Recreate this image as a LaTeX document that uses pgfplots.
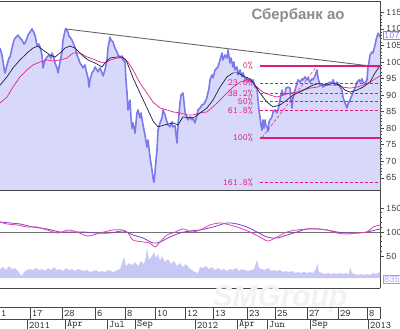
\documentclass[border=0pt]{standalone}
\usepackage{pgfplots}
\usepackage{pgfplotstable}
\pgfplotsset{compat=1.18}
\usepackage{fontspec}
\newfontfamily\titlefont{Liberation Sans}
\definecolor{lav}{RGB}{216,216,250}
\definecolor{pline}{RGB}{122,122,236}
\definecolor{maA}{RGB}{30,30,70}
\definecolor{maB}{RGB}{222,40,130}
\definecolor{fib}{RGB}{226,24,122}
\definecolor{oscA}{RGB}{124,64,208}
\definecolor{oscB}{RGB}{228,70,170}
\definecolor{volc}{RGB}{200,200,246}
\definecolor{frame}{RGB}{70,70,70}

\pgfplotstableread{
x v
0 104.2
2 102.1
4 98.2
5 96.7
7 99.1
9 101.2
10 101.5
12 104.2
14 106.6
15 107.2
17 107.8
18 108.1
20 107.2
22 106.6
24 105.4
25 105.7
27 107.2
28 108.1
30 109.0
32 110.0
33 109.4
35 108.1
36 106.6
37 105.1
39 105.4
40 104.5
42 102.1
43 98.2
45 100.6
47 101.5
49 102.1
51 101.2
52 102.7
54 101.2
55 99.7
57 98.2
58 96.7
60 100.0
62 103.0
63 106.6
65 109.4
66 110.0
68 109.0
69 107.8
70 107.5
72 106.6
74 105.1
75 104.5
77 102.1
79 100.6
80 99.7
82 98.8
83 98.2
85 99.1
86 97.6
88 95.2
89 92.4
90 94.6
92 96.7
94 97.6
95 98.5
97 97.6
98 97.0
100 98.2
102 96.7
103 95.8
105 97.6
107 100.6
108 104.2
110 107.5
111 106.6
113 106.0
115 104.2
117 103.0
118 102.1
120 101.5
122 101.8
123 100.6
125 100.0
126 94.6
127 90.6
128 85.5
130 88.5
131 83.1
132 80.0
133 81.6
135 78.5
137 84.6
138 85.5
140 83.1
141 84.6
143 81.0
145 77.9
147 74.3
148 76.4
150 71.3
152 67.4
153 64.9
154 63.7
155 66.5
156 70.4
157 73.4
158 79.4
160 81.6
162 83.1
163 85.5
165 84.0
167 81.9
168 81.0
170 80.4
172 81.9
173 80.4
175 80.7
177 75.5
178 81.0
180 87.6
181 90.0
183 90.6
184 87.9
185 84.9
187 83.1
188 82.5
190 83.4
192 82.5
193 83.1
195 81.6
197 84.0
198 85.5
200 86.1
202 87.0
204 87.3
206 88.5
207 89.4
209 92.1
210 94.6
212 96.1
213 95.2
215 97.6
217 98.2
218 98.5
220 100.6
222 102.7
223 100.6
225 102.1
227 101.2
228 103.6
230 99.7
231 101.2
233 98.5
234 100.0
235 97.6
237 98.5
238 96.1
240 97.6
242 95.5
243 96.7
245 94.9
247 95.2
248 93.9
250 94.6
252 93.9
253 94.6
255 92.4
257 92.1
258 88.5
259 85.5
260 83.4
261 81.0
262 79.4
263 82.5
264 80.0
265 82.5
266 80.7
267 80.4
268 79.1
269 81.9
270 82.5
272 83.4
273 84.9
275 85.5
277 84.6
278 85.5
280 88.5
281 90.0
282 91.5
283 90.0
285 90.6
286 92.1
288 92.4
290 92.1
291 88.5
292 86.1
293 89.1
295 91.5
297 93.6
298 94.6
300 93.9
302 94.9
303 94.6
305 95.5
307 94.6
308 95.2
310 93.9
312 94.9
313 94.6
315 95.8
317 97.6
318 95.2
320 93.0
322 93.3
323 92.4
325 93.0
327 93.3
328 93.6
330 93.9
332 93.6
333 94.6
335 93.0
337 93.9
338 93.6
340 92.4
342 91.5
343 89.4
345 87.6
347 86.1
348 87.3
350 88.5
352 90.0
353 90.9
355 92.1
357 93.9
359 94.6
360 93.9
362 94.9
363 93.9
365 93.6
367 94.6
368 98.5
369 100.0
370 102.1
372 103.0
373 102.7
375 105.1
376 106.6
378 108.7
379 108.2
380 107.5
}\price

\pgfplotstableread{
x v
0 93.0
7 95.5
13 98.2
20 100.6
27 102.7
33 104.2
38 104.8
43 103.6
50 102.1
55 101.5
60 102.7
65 104.2
70 104.8
75 104.2
82 102.1
88 100.6
95 99.7
102 98.5
105 99.7
110 101.2
117 101.5
122 101.5
126 100.6
130 97.6
133 95.2
140 90.6
147 86.1
153 82.2
158 80.4
165 81.0
173 81.6
178 81.0
183 83.4
190 83.1
195 83.4
200 84.6
207 86.1
213 88.5
220 92.4
227 95.5
233 96.7
238 96.7
245 95.5
250 94.9
255 93.0
260 90.6
267 87.9
273 86.4
280 87.0
287 88.5
293 90.0
300 90.9
307 92.1
313 93.0
320 93.6
327 93.0
333 93.6
340 93.0
345 91.5
350 90.9
357 91.5
363 92.4
370 93.9
375 96.7
380 98.8
}\maone

\pgfplotstableread{
x v
0 87.6
7 89.4
13 92.4
20 95.5
27 97.6
33 99.1
40 100.0
47 100.6
53 100.3
60 100.6
67 101.2
73 102.7
80 102.7
87 101.5
93 100.9
100 100.0
105 99.7
110 100.6
117 101.2
123 101.2
128 100.0
133 97.6
140 93.6
147 90.6
153 87.9
160 86.1
167 85.5
173 84.9
180 84.6
187 84.0
193 84.0
200 84.6
207 84.9
213 86.4
220 88.5
227 90.6
233 92.4
240 93.9
247 94.6
250 94.6
257 92.4
263 90.9
270 90.0
277 89.4
283 90.0
290 90.6
297 90.9
303 91.5
310 92.1
317 92.4
323 93.0
330 93.0
337 93.0
343 92.4
350 92.1
357 92.4
363 93.0
370 93.9
380 95.8
}\matwo

\pgfplotstableread{
x v
0 120.8
10 118.8
20 116.7
33 110.4
47 106.3
60 100
70 100
83 100
97 97.9
110 97.9
123 102.1
133 93.8
143 87.5
153 77.1
160 79.2
170 89.6
180 97.9
190 102.1
200 104.2
213 110.4
227 118.8
237 116.7
247 110.4
257 100
267 89.6
277 87.5
287 93.8
297 100
307 106.3
317 106.3
327 104.2
337 100
347 97.9
357 97.9
367 100
380 106.3
}\oscone

\pgfplotstableread{
x v
0 120.8
7 116.7
17 114.6
27 110.4
37 110.4
47 104.2
58 97.9
68 104.2
77 100
88 91.7
100 97.9
113 104.2
123 104.2
128 97.9
133 83.3
143 79.2
150 77.1
155 68.8
160 79.2
167 93.8
173 97.9
183 106.3
192 100
200 104.2
210 114.6
220 118.8
230 114.6
240 108.3
250 100
260 89.6
268 81.3
277 89.6
287 100
297 104.2
307 106.3
317 106.3
327 104.2
337 97.9
347 95.8
357 97.9
367 100
373 110.4
380 114.6
}\osctwo

\pgfplotstableread{
x h
0 9
3 11
6 8
9 12
12 9
15 10
18 7
20 4
22 2
24 6
27 8
30 9
33 8
36 10
39 8
42 9
45 7
48 10
51 8
54 11
57 8
60 9
63 7
66 10
69 8
72 9
75 7
78 9
81 8
84 7
87 8
90 6
93 7
96 8
99 6
102 7
105 6
108 8
111 7
114 6
117 8
120 9
123 18
124 21
126 12
129 15
132 13
135 16
138 12
141 17
144 14
146 22
147 30
149 18
152 22
154 26
156 20
158 24
160 17
162 22
165 16
168 19
171 14
174 17
177 12
180 15
183 11
186 14
189 10
192 8
195 6
198 5
200 11
203 10
206 12
209 9
212 11
215 8
218 10
221 8
224 9
227 7
230 9
233 8
236 10
239 7
242 9
245 8
248 7
251 8
254 9
257 18
259 10
262 9
265 8
268 10
271 7
274 8
277 7
280 8
283 6
286 7
289 6
292 7
295 5
298 6
301 5
304 6
307 5
310 6
313 5
316 9
317 15
319 6
322 5
325 4
328 5
331 4
334 5
337 4
340 5
343 4
346 5
349 4
350 11
352 5
355 4
358 3
361 4
364 3
367 4
370 3
373 5
376 4
380 6
}\vol

\pgfplotsset{
  chartstyle/.style={
    scale only axis, width=380bp, xmin=0, xmax=380,
    xtick=\empty,
    axis x line*=box, axis y line*=right,
    axis line style={-, draw=frame, line width=0.8bp},
    ytick pos=right, yticklabel pos=right,
    tick align=outside,
    major tick length=3.5bp, minor tick length=2bp,
    tick style={draw=frame, line width=0.6bp},
    yticklabel style={font=\ttfamily\fontsize{10}{10}\selectfont, text=black!80, anchor=west, xshift=-1bp},
    /pgf/number format/assume math mode=true,
  },
}

\begin{document}
\begin{tikzpicture}[x=1bp,y=1bp]
\clip (0,0) rectangle (400,329);
\fill[white] (0,0) rectangle (400,329);

% ---------- main price panel ----------
\begin{axis}[chartstyle,
  at={(0bp,139bp)}, anchor=south west, height=189bp,
  ymin=61.32, ymax=118.42,
  ytick={65,70,...,115}, minor tick num=4,
]
\addplot[fill=lav, draw=none] table[x=x,y=v]{\price} \closedcycle;
\addplot[pline, line width=1.6bp, line join=round] table[x=x,y=v]{\price};
\addplot[maB, line width=0.7bp] table[x=x,y=v]{\matwo};
\addplot[maA, line width=0.7bp] table[x=x,y=v]{\maone};
\addplot[black!60, line width=0.9bp] coordinates {(65,110.0) (378,98.5)};
% Fibonacci levels
\addplot[draw=fib, line width=1.5bp] coordinates {(260,98.8) (380,98.8)};
\addplot[draw=fib, line width=1.5bp] coordinates {(260,77.1) (380,77.1)};
\addplot[draw=fib, densely dashed, line width=0.6bp] coordinates {(260,93.7) (380,93.7)};
\addplot[draw=fib, densely dashed, line width=0.6bp] coordinates {(260,90.5) (380,90.5)};
\addplot[draw=fib, densely dashed, line width=0.6bp] coordinates {(260,88.0) (380,88.0)};
\addplot[draw=fib, densely dashed, line width=0.6bp] coordinates {(260,85.4) (380,85.4)};
\addplot[draw=fib, densely dashed, line width=0.6bp] coordinates {(260,63.7) (380,63.7)};
\addplot[draw=fib, densely dashed, line width=0.5bp] coordinates {(262,77.1) (317,98.8)};
\begin{scope}[every node/.style={font=\ttfamily\fontsize{9.5}{9.5}\selectfont, text=fib, anchor=east, inner sep=0pt}]
\node at (axis cs:253,98.8) {0\%};
\node at (axis cs:253,93.7) {23.6\%};
\node at (axis cs:253,90.5) {38.2\%};
\node at (axis cs:253,88.0) {50\%};
\node at (axis cs:253,85.4) {61.8\%};
\node at (axis cs:253,77.1) {100\%};
\node at (axis cs:253,63.7) {161.8\%};
\end{scope}
\end{axis}

% ---------- oscillator / volume panel ----------
\begin{axis}[chartstyle,
  at={(0bp,41bp)}, anchor=south west, height=98bp,
  ymin=-16.67, ymax=187.5,
  ytick={50,100,150}, minor tick num=4,
]
\addplot[black!55, line width=0.9bp] coordinates {(0,100) (380,100)};
\addplot[oscA, line width=0.8bp, smooth] table[x=x,y=v]{\oscone};
\addplot[oscB, line width=0.8bp, smooth] table[x=x,y=v]{\osctwo};
\end{axis}
\begin{axis}[
  at={(0bp,41bp)}, anchor=south west, scale only axis, width=380bp, height=98bp,
  xmin=0, xmax=380, ymin=-10, ymax=88, hide axis,
]
\addplot[fill=volc, draw=none] table[x=x,y=h]{\vol} \closedcycle;
\end{axis}

% ---------- title and value boxes ----------
\node[font=\titlefont\bfseries\fontsize{15}{15}\selectfont, text=black!45] at (298,313) {Сбербанк ао};
\node[draw=black!45, fill=white, inner sep=1bp, anchor=west, font=\ttfamily\fontsize{10}{10}\selectfont, text=pline] at (383,294) {107.5};
\node[draw=black!35, fill=white, inner sep=1bp, anchor=west, font=\ttfamily\fontsize{10}{10}\selectfont, text=volc!80!blue] at (383,50) {835};

% ---------- watermark ----------
\node[font=\titlefont\bfseries\itshape\fontsize{30}{30}\selectfont, text=black!5] at (280,30) {SMGroup};

% ---------- date bar ----------
\begin{scope}[draw=frame, line width=0.8bp]
\draw (0,22) -- (380,22);
\draw (0,10) -- (380,10);
\foreach \xx in {30,62,95,125,155,185,213,247,275,307,338,367,380} {\draw (\xx,22) -- (\xx,10);}
\foreach \xx in {27,65,107,135,195,237,267,310,368} {\draw (\xx,10) -- (\xx,0);}
\end{scope}
\begin{scope}[every node/.style={font=\ttfamily\fontsize{10}{10}\selectfont, text=black!85, anchor=west, inner sep=0pt}]
\node at (1,16) {1};
\foreach \xx/\lab in {30/17,62/28,95/6,125/8,155/10,185/12,213/13,247/23,275/25,307/27,338/29,367/8} {\node at (\xx+2,16) {\lab};}
\foreach \xx/\lab in {27/2011,65/Apr,107/Jul,135/Sep,195/2012,237/Apr,267/Jun,310/Sep,368/2013} {\node at (\xx+2,4) {\lab};}
\end{scope}
\end{tikzpicture}
\end{document}
